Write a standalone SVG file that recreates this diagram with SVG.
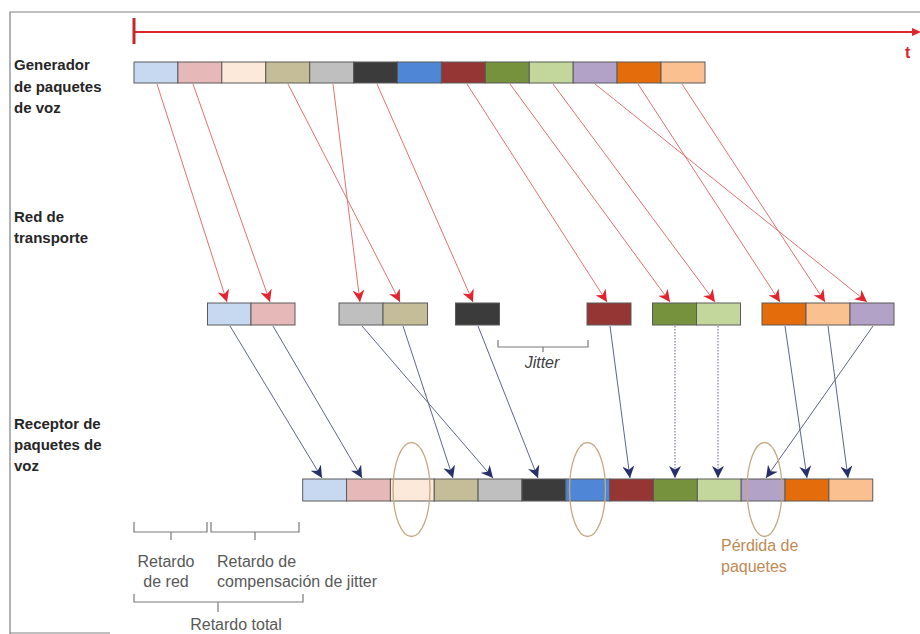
<svg xmlns="http://www.w3.org/2000/svg" width="920" height="634" viewBox="0 0 920 634">
  <style>
    .frame { stroke: #808080; stroke-width: 1.2; fill: none; }
    .cell { stroke: #5a5a5a; stroke-width: 1; }
    .lbl { font-family: "Liberation Sans", Arial, sans-serif; font-weight: bold; font-size: 15px; fill: #262626; }
    .note { font-family: "Liberation Sans", Arial, sans-serif; font-size: 16px; fill: #595959; }
    .jit { font-family: "Liberation Sans", Arial, sans-serif; font-style: italic; font-size: 16px; fill: #404040; }
    .loss { font-family: "Liberation Sans", Arial, sans-serif; font-size: 16px; fill: #c08a55; }
    .send { stroke: #e27272; stroke-width: 1; fill: none; marker-end: url(#redHead); }
    .recv { stroke: #5c6688; stroke-width: 1; fill: none; marker-end: url(#blueHead); }
    .dots { stroke-dasharray: 1.5 1.5; }
    .brace { stroke: #7a7a7a; stroke-width: 1.2; fill: none; }
    .ring { stroke: #c4a985; stroke-width: 1.3; fill: none; }
    .lb { fill: #c6d9f1; } .pk { fill: #e6b9b8; } .lp { fill: #fde9d9; }
    .kh { fill: #c4bd97; } .gy { fill: #bfbfbf; } .bk { fill: #3b3b3b; }
    .bl { fill: #4f87d6; } .dr { fill: #963634; } .gr { fill: #76923c; }
    .lg { fill: #c3d69b; } .pu { fill: #b3a2c7; } .or { fill: #e46c0a; }
    .pe { fill: #fac090; }
  </style>
  <defs>
    <marker id="redHead" viewBox="0 0 10 10" refX="10" refY="5" markerWidth="12" markerHeight="12" markerUnits="userSpaceOnUse" orient="auto">
      <path d="M0,0 L10,5 L0,10 L3,5 Z" fill="#e3232d"/>
    </marker>
    <marker id="blueHead" viewBox="0 0 10 10" refX="10" refY="5" markerWidth="12" markerHeight="12" markerUnits="userSpaceOnUse" orient="auto">
      <path d="M0,0 L10,5 L0,10 L3,5 Z" fill="#27306a"/>
    </marker>
  </defs>

  <rect x="0" y="0" width="920" height="634" fill="#ffffff"/>

  <!-- outer frame -->
  <g id="frame">
    <path class="frame" d="M10,634 L10,12 L920,12"/>
    <path class="frame" d="M10,633 L110,633"/>
  </g>

  <!-- time axis -->
  <g id="time-axis">
    <line x1="134" y1="32" x2="914" y2="32" stroke="#e0262f" stroke-width="2"/>
    <line x1="134" y1="18" x2="134" y2="44" stroke="#c8242c" stroke-width="3"/>
    <path d="M912,28 L921,32 L912,36 Z" fill="#e0262f"/>
    <text x="905" y="58" font-family="Liberation Sans, Arial, sans-serif" font-weight="bold" font-size="16" fill="#d9262e">t</text>
  </g>

  <!-- row labels -->
  <g id="label-generator">
    <text class="lbl" x="14" y="70">Generador</text>
    <text class="lbl" x="14" y="92">de paquetes</text>
    <text class="lbl" x="14" y="113">de voz</text>
  </g>
  <g id="label-network">
    <text class="lbl" x="14" y="222">Red de</text>
    <text class="lbl" x="14" y="243">transporte</text>
  </g>
  <g id="label-receiver">
    <text class="lbl" x="14" y="429">Receptor de</text>
    <text class="lbl" x="14" y="450">paquetes de</text>
    <text class="lbl" x="14" y="471">voz</text>
  </g>

  <!-- connectors -->
  <g id="connectors">
    <!-- generator to network -->
    <line class="send" x1="157" y1="84" x2="227" y2="302"/>
    <line class="send" x1="193" y1="84" x2="270" y2="302"/>
    <line class="send" x1="288" y1="84" x2="400" y2="302"/>
    <line class="send" x1="333" y1="84" x2="360" y2="302"/>
    <line class="send" x1="377" y1="84" x2="473" y2="302"/>
    <line class="send" x1="467" y1="84" x2="607" y2="302"/>
    <line class="send" x1="510" y1="84" x2="670" y2="302"/>
    <line class="send" x1="553" y1="84" x2="715" y2="302"/>
    <line class="send" x1="595" y1="84" x2="867" y2="302"/>
    <line class="send" x1="638" y1="84" x2="780" y2="302"/>
    <line class="send" x1="682" y1="84" x2="825" y2="302"/>
    <!-- network to receiver -->
    <line class="recv" x1="230" y1="326" x2="322" y2="478"/>
    <line class="recv" x1="273" y1="326" x2="362" y2="478"/>
    <line class="recv" x1="362" y1="326" x2="493" y2="478"/>
    <line class="recv" x1="403" y1="326" x2="453" y2="478"/>
    <line class="recv" x1="478" y1="326" x2="538" y2="478"/>
    <line class="recv" x1="610" y1="326" x2="630" y2="478"/>
    <line class="recv dots" x1="675" y1="326" x2="675" y2="478"/>
    <line class="recv dots" x1="718" y1="326" x2="718" y2="478"/>
    <line class="recv" x1="785" y1="326" x2="807" y2="478"/>
    <line class="recv" x1="828" y1="326" x2="848" y2="478"/>
    <line class="recv" x1="873" y1="326" x2="766" y2="478"/>
  </g>

  <!-- generator packets -->
  <g id="gen-1"><rect class="cell lb" x="134" y="62" width="43.9" height="21"/></g>
  <g id="gen-2"><rect class="cell pk" x="177.9" y="62" width="43.9" height="21"/></g>
  <g id="gen-3"><rect class="cell lp" x="221.8" y="62" width="43.9" height="21"/></g>
  <g id="gen-4"><rect class="cell kh" x="265.8" y="62" width="43.9" height="21"/></g>
  <g id="gen-5"><rect class="cell gy" x="309.7" y="62" width="43.9" height="21"/></g>
  <g id="gen-6"><rect class="cell bk" x="353.6" y="62" width="43.9" height="21"/></g>
  <g id="gen-7"><rect class="cell bl" x="397.5" y="62" width="43.9" height="21"/></g>
  <g id="gen-8"><rect class="cell dr" x="441.4" y="62" width="43.9" height="21"/></g>
  <g id="gen-9"><rect class="cell gr" x="485.4" y="62" width="43.9" height="21"/></g>
  <g id="gen-10"><rect class="cell lg" x="529.3" y="62" width="43.9" height="21"/></g>
  <g id="gen-11"><rect class="cell pu" x="573.2" y="62" width="43.9" height="21"/></g>
  <g id="gen-12"><rect class="cell or" x="617.1" y="62" width="43.9" height="21"/></g>
  <g id="gen-13"><rect class="cell pe" x="661" y="62" width="44" height="21"/></g>

  <!-- packets in transit -->
  <g id="net-1"><rect class="cell lb" x="207.5" y="303" width="43.5" height="22"/></g>
  <g id="net-2"><rect class="cell pk" x="251" y="303" width="44" height="22"/></g>
  <g id="net-5"><rect class="cell gy" x="339" y="303" width="44" height="22"/></g>
  <g id="net-4"><rect class="cell kh" x="383" y="303" width="44.5" height="22"/></g>
  <g id="net-6"><rect class="cell bk" x="455.5" y="303" width="44" height="22"/></g>
  <g id="net-8"><rect class="cell dr" x="587" y="303" width="44" height="22"/></g>
  <g id="net-9"><rect class="cell gr" x="652.5" y="303" width="44" height="22"/></g>
  <g id="net-10"><rect class="cell lg" x="696.5" y="303" width="44" height="22"/></g>
  <g id="net-12"><rect class="cell or" x="762" y="303" width="44" height="22"/></g>
  <g id="net-13"><rect class="cell pe" x="806" y="303" width="44" height="22"/></g>
  <g id="net-11"><rect class="cell pu" x="850" y="303" width="44" height="22"/></g>

  <!-- jitter bracket -->
  <g id="jitter">
    <path class="brace" d="M498,340 L498,347 L588,347 L588,340 M543,347 L543,352"/>
    <text class="jit" x="542" y="368" text-anchor="middle">Jitter</text>
  </g>

  <!-- received packets -->
  <g id="rx-1"><rect class="cell lb" x="302.7" y="479" width="43.85" height="22"/></g>
  <g id="rx-2"><rect class="cell pk" x="346.55" y="479" width="43.85" height="22"/></g>
  <g id="rx-3"><rect class="cell lp" x="390.4" y="479" width="43.85" height="22"/></g>
  <g id="rx-4"><rect class="cell kh" x="434.25" y="479" width="43.85" height="22"/></g>
  <g id="rx-5"><rect class="cell gy" x="478.1" y="479" width="43.85" height="22"/></g>
  <g id="rx-6"><rect class="cell bk" x="521.95" y="479" width="43.85" height="22"/></g>
  <g id="rx-7"><rect class="cell bl" x="565.8" y="479" width="43.85" height="22"/></g>
  <g id="rx-8"><rect class="cell dr" x="609.65" y="479" width="43.85" height="22"/></g>
  <g id="rx-9"><rect class="cell gr" x="653.5" y="479" width="43.85" height="22"/></g>
  <g id="rx-10"><rect class="cell lg" x="697.35" y="479" width="43.85" height="22"/></g>
  <g id="rx-11"><rect class="cell pu" x="741.2" y="479" width="43.85" height="22"/></g>
  <g id="rx-12"><rect class="cell or" x="785.05" y="479" width="43.85" height="22"/></g>
  <g id="rx-13"><rect class="cell pe" x="828.9" y="479" width="43.85" height="22"/></g>

  <!-- lost-packet rings -->
  <g id="loss-marks">
    <ellipse class="ring" cx="411.5" cy="489.5" rx="18.5" ry="47"/>
    <ellipse class="ring" cx="587.5" cy="489.5" rx="18" ry="47"/>
    <ellipse class="ring" cx="764.5" cy="489.5" rx="17.5" ry="47"/>
    <text class="loss" x="721" y="551">Pérdida de</text>
    <text class="loss" x="721" y="572">paquetes</text>
  </g>

  <!-- delay braces -->
  <g id="delay-net">
    <path class="brace" d="M134,522 L134,532 L207,532 L207,522 M171,532 L171,540"/>
    <text class="note" x="166" y="567" text-anchor="middle">Retardo</text>
    <text class="note" x="166" y="587" text-anchor="middle">de red</text>
  </g>
  <g id="delay-jitter">
    <path class="brace" d="M211,522 L211,532 L299,532 L299,522 M255,532 L255,540"/>
    <text class="note" x="217" y="567">Retardo de</text>
    <text class="note" x="217" y="587">compensación de jitter</text>
  </g>
  <g id="delay-total">
    <path class="brace" d="M134,594 L134,602 L303,602 L303,594 M218,602 L218,612"/>
    <text class="note" x="236" y="630" text-anchor="middle">Retardo total</text>
  </g>
</svg>
